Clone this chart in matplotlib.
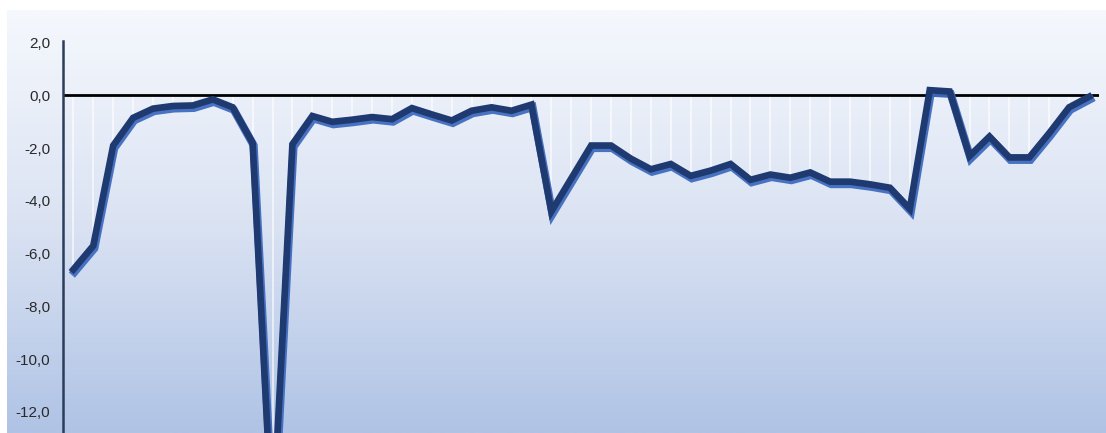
import numpy as np
import matplotlib.pyplot as plt
import matplotlib.patheffects as pe
from matplotlib.colors import LinearSegmentedColormap

# ==========================================================
# data (52 periods, no category labels)
# ==========================================================
values = [
    -6.6, -5.7, -1.9, -0.85, -0.5, -0.4, -0.38, -0.15, -0.45, -1.8,
    -16.5, -1.85, -0.78, -1.0, -0.92, -0.82, -0.9, -0.48, -0.72, -0.95,
    -0.58, -0.45, -0.58, -0.35, -4.4, -3.15, -1.9, -1.9, -2.4, -2.8,
    -2.6, -3.05, -2.85, -2.6, -3.2, -3.0, -3.12, -2.92, -3.27, -3.27,
    -3.37, -3.5, -4.3, 0.2, 0.15, -2.3, -1.56, -2.35, -2.35, -1.43,
    -0.45, -0.05,
]
y_ticks = [2, 0, -2, -4, -6, -8, -10, -12]
y_tick_labels = ["2,0", "0,0", "-2,0", "-4,0", "-6,0", "-8,0", "-10,0", "-12,0"]

W, H = 1106, 433
fig = plt.figure(figsize=(W / 100, H / 100), dpi=100)
fig.patch.set_facecolor("white")

# --- gradient chart area ---
bg = fig.add_axes([7 / W, 0, 1 - 7 / W, 1 - 10 / H])
cmap = LinearSegmentedColormap.from_list("bg", ["#f5f8fd", "#dbe3f3", "#afc3e5"])
bg.imshow(np.linspace(0, 1, 256).reshape(-1, 1), aspect="auto", cmap=cmap,
          extent=[0, 1, 0, 1], origin="upper")
bg.axis("off")

# --- main axes ---
ax = fig.add_axes([63 / W, 0, (1099 - 63) / W, 1 - 10 / H])
ax.patch.set_alpha(0)

x = np.arange(len(values))
ax.set_xlim(-0.52, len(values) - 0.5)
ax.set_ylim(-12.8, 3.24)

# drop lines from zero to each point
ax.vlines(x, 0, values, color="white", linewidth=1.2, alpha=0.7, zorder=1)

# zero line
ax.axhline(0, color="black", linewidth=2, zorder=2)

# main series with a lighter blue shadow
ax.plot(x, values, color="#1f3a70", linewidth=4.8, solid_joinstyle="miter",
        zorder=3,
        path_effects=[pe.SimpleLineShadow(offset=(0.8, -1.8), shadow_color="#3f6cc0",
                                          alpha=0.95, linewidth=5.8),
                      pe.Normal()])

# --- axis styling ---
for s in ["top", "right", "bottom"]:
    ax.spines[s].set_visible(False)
ax.spines["left"].set_color("#2b3d5c")
ax.spines["left"].set_linewidth(1.8)
ax.spines["left"].set_bounds(-12.8, 2.05)

ax.set_xticks([])
ax.set_yticks(y_ticks)
ax.set_yticklabels(y_tick_labels, family=["Liberation Sans", "DejaVu Sans"],
                   fontsize=11, color="#2a2a2a")
ax.tick_params(axis="y", length=0, pad=9)

fig.savefig("out.png", dpi=100)
